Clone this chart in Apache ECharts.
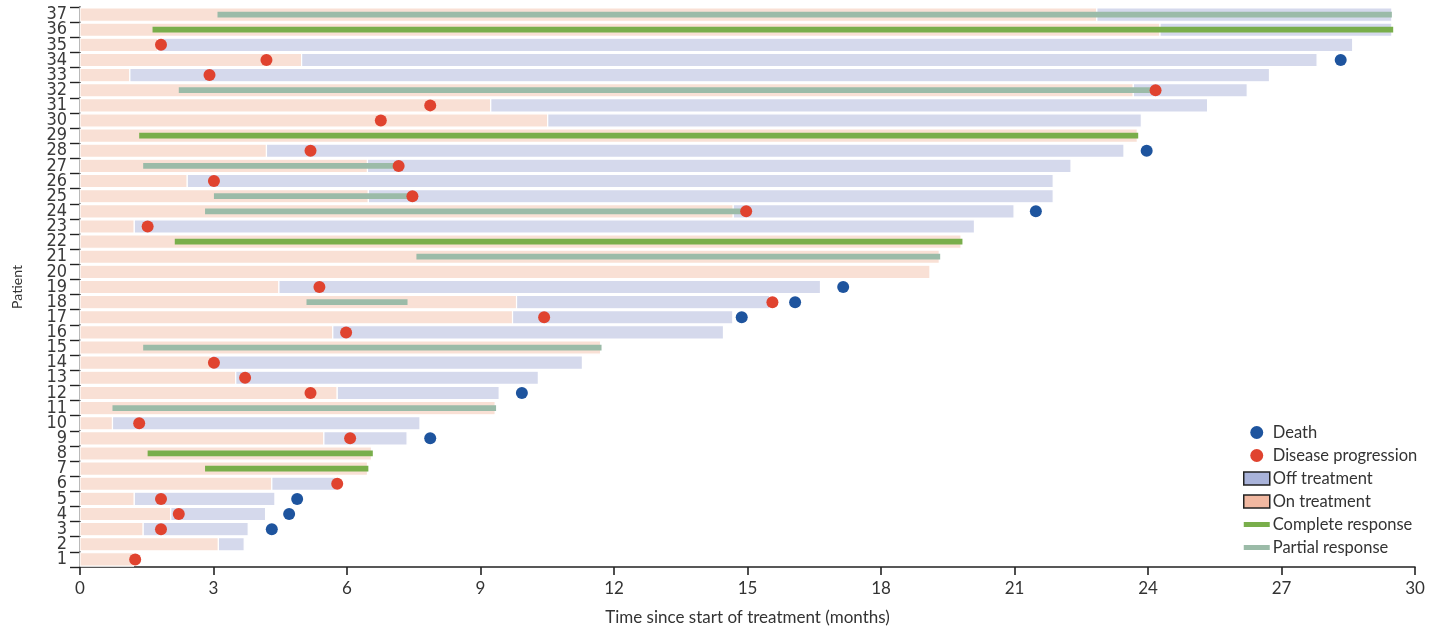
<!DOCTYPE html>
<html>
<head>
<meta charset="utf-8">
<script src="https://cdn.jsdelivr.net/npm/echarts@6/dist/echarts.min.js"></script>
<style>
html,body{margin:0;padding:0;background:#fff;overflow:hidden;}
#chart{width:1429px;height:631px;}
</style>
</head>
<body>
<div id="chart"></div>
<script>
// Patients 1..37 (bottom to top)
var patients = ['1','2','3','4','5','6','7','8','9','10','11','12','13','14','15','16','17','18','19','20','21','22','23','24','25','26','27','28','29','30','31','32','33','34','35','36','37'];
// End of on-treatment period (months)
var onEnd = [1.2,3.11,1.42,2.04,1.22,4.31,6.46,6.55,5.48,0.73,9.33,5.78,3.5,2.95,11.7,5.68,9.72,9.81,4.47,19.1,19.31,19.8,1.22,14.68,6.48,2.41,6.46,4.19,23.76,10.51,9.23,23.67,1.12,4.98,1.75,24.27,22.85];
// End of off-treatment follow-up (months), null = none
var offEnd = [null,3.69,3.78,4.17,4.38,5.75,null,null,7.35,7.64,null,9.42,10.3,11.29,null,14.46,14.67,15.5,16.64,null,null,null,20.1,20.99,21.87,21.87,22.27,23.46,null,23.85,25.34,26.23,26.73,27.8,28.6,29.48,29.48];
// Complete response start / end
var crStart = [null,null,null,null,null,null,2.81,1.52,null,null,null,null,null,null,null,null,null,null,null,null,null,2.13,null,null,null,null,null,null,1.33,null,null,null,null,null,null,1.63,null];
var crEnd   = [null,null,null,null,null,null,6.48,6.58,null,null,null,null,null,null,null,null,null,null,null,null,null,19.83,null,null,null,null,null,null,23.78,null,null,null,null,null,null,29.51,null];
// Partial response start / end
var prStart = [null,null,null,null,null,null,null,null,null,null,0.73,null,null,null,1.42,null,null,5.09,null,null,7.56,null,null,2.81,3.01,null,1.42,null,null,null,null,2.22,null,null,null,null,3.09];
var prEnd   = [null,null,null,null,null,null,null,null,null,null,9.35,null,null,null,11.72,null,null,7.36,null,null,19.33,null,null,14.9,7.4,null,7.1,null,null,null,null,24.08,null,null,null,null,29.48];
// Disease progression time
var progression = [1.24,null,1.82,2.22,1.82,5.78,null,null,6.07,1.33,null,5.18,3.71,3.01,null,5.98,10.43,15.56,5.38,null,null,null,1.52,14.97,7.47,3.01,7.16,5.18,null,6.76,7.87,24.17,2.91,4.19,1.82,null,null];
// Death time
var death = [null,null,4.31,4.7,4.88,null,null,null,7.87,null,null,9.93,null,null,null,null,14.87,16.07,17.15,null,null,null,null,21.48,null,null,null,23.97,null,null,null,null,null,28.33,null,null,null];
var xTicks = {min:0, max:30, interval:3};

var C = {
  on:'#f9e0d5', off:'#d5d9ec', cr:'#79ae4b', pr:'#9bbba8', death:'#1e549e', prog:'#e0432f',
  onLeg:'#f1b8a1', offLeg:'#a9b3da'
};

function spans(a, b){
  var out = [];
  for (var i=0;i<a.length;i++){ if (a[i]!=null && b[i]!=null) out.push([a[i], b[i], i]); }
  return out;
}
function points(a){
  var out = [];
  for (var i=0;i<a.length;i++){ if (a[i]!=null) out.push([a[i], i]); }
  return out;
}
var onData = spans(onEnd.map(function(){return 0;}), onEnd);
var offData = spans(onEnd, offEnd);
var crData = spans(crStart, crEnd);
var prData = spans(prStart, prEnd);

function rectRender(fill, frac, stroke){
  return function(params, api){
    var yi = api.value(2);
    var s = api.coord([api.value(0), yi]);
    var e = api.coord([api.value(1), yi]);
    var h = api.size([0,1])[1] * frac;
    return {
      type:'rect',
      shape:{x:s[0], y:s[1]-h/2, width:e[0]-s[0], height:h},
      style: stroke ? {fill:fill, stroke:'#ffffff', lineWidth:1.2} : {fill:fill}
    };
  };
}

var font = 'Lato, "Open Sans", sans-serif';
var chart = echarts.init(document.getElementById('chart'), null, {renderer:'canvas', width:1429, height:631});
chart.setOption({
  animation:false,
  backgroundColor:'#ffffff',
  grid:{left:80, width:1335, top:7, height:563},
  xAxis:{
    type:'value', min:xTicks.min, max:xTicks.max, interval:xTicks.interval,
    name:'Time since start of treatment (months)', nameLocation:'middle', nameGap:42,
    nameTextStyle:{fontFamily:font, fontSize:17, color:'#333'},
    axisLine:{show:true, onZero:false, lineStyle:{color:'#222', width:1.6}},
    axisTick:{show:true, length:8, lineStyle:{color:'#222', width:1.6}},
    axisLabel:{fontFamily:font, fontSize:17, color:'#333', margin:13},
    splitLine:{show:false}
  },
  yAxis:{
    type:'category', data:patients,
    name:'Patient', nameLocation:'middle', nameGap:56,
    nameTextStyle:{fontFamily:font, fontSize:14, color:'#333'},
    axisLine:{show:true, onZero:false, lineStyle:{color:'#222', width:1.6}},
    axisTick:{show:true, length:10, lineStyle:{color:'#222', width:1.4}},
    axisLabel:{interval:0, fontFamily:'"Liberation Sans Narrow", "DejaVu Sans Condensed", sans-serif', fontSize:18, color:'#3a3a3a', margin:13, padding:[3,0,0,0]},
    splitLine:{show:false}
  },
  legend:{
    orient:'vertical', left:1238, top:419, itemWidth:26, itemHeight:13, itemGap:6,
    selectedMode:false,
    textStyle:{fontFamily:font, fontSize:16.5, color:'#333', lineHeight:17, padding:[0,0,0,-2]},
    data:[
      {name:'Death', icon:'circle', itemStyle:{color:C.death}},
      {name:'Disease progression', icon:'circle', itemStyle:{color:C.prog}},
      {name:'Off treatment', icon:'rect', itemStyle:{color:C.offLeg, borderColor:'#222', borderWidth:1.5}},
      {name:'On treatment', icon:'rect', itemStyle:{color:C.onLeg, borderColor:'#222', borderWidth:1.5}},
      {name:'Complete response', icon:'path://M0,0H26V5H0Z', itemStyle:{color:C.cr}},
      {name:'Partial response', icon:'path://M0,0H26V5H0Z', itemStyle:{color:C.pr}}
    ]
  },
  series:[
    {name:'On treatment', type:'custom', renderItem:rectRender(C.on, 0.88, true), data:onData,
     encode:{x:[0,1], y:2}, itemStyle:{color:C.on}, z:1},
    {name:'Off treatment', type:'custom', renderItem:rectRender(C.off, 0.88, true), data:offData,
     encode:{x:[0,1], y:2}, itemStyle:{color:C.off}, z:1},
    {name:'Complete response', type:'custom', renderItem:rectRender(C.cr, 0.38, false), data:crData,
     encode:{x:[0,1], y:2}, itemStyle:{color:C.cr}, z:2},
    {name:'Partial response', type:'custom', renderItem:rectRender(C.pr, 0.38, false), data:prData,
     encode:{x:[0,1], y:2}, itemStyle:{color:C.pr}, z:2},
    {name:'Disease progression', type:'scatter', data:points(progression), symbol:'circle', symbolSize:12,
     itemStyle:{color:C.prog, opacity:1}, z:3},
    {name:'Death', type:'scatter', data:points(death), symbol:'circle', symbolSize:12,
     itemStyle:{color:C.death, opacity:1}, z:3}
  ]
});
</script>
</body>
</html>
